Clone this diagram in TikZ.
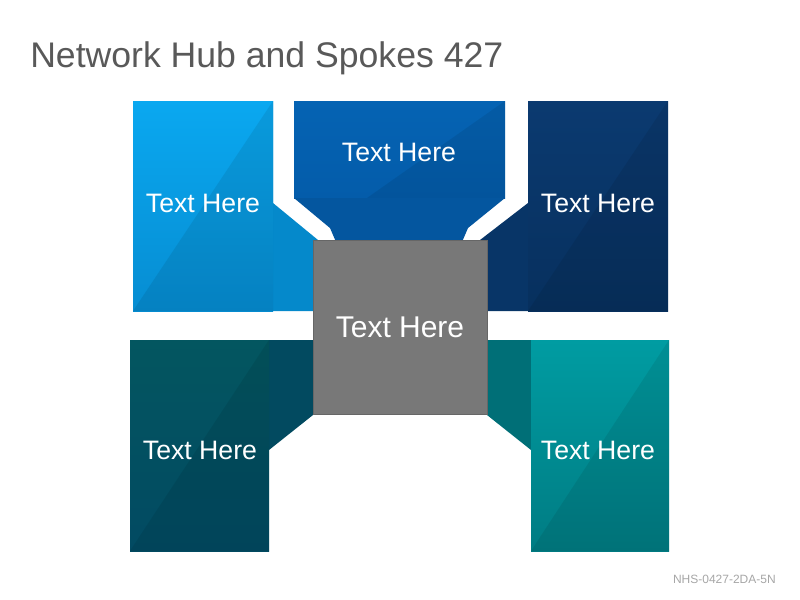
\documentclass[tikz,border=0pt]{standalone}
\usepackage{fontspec}
\setmainfont{Liberation Sans}
\usetikzlibrary{shadows}
\definecolor{tltop}{HTML}{0AA8F0}
\definecolor{tlbot}{HTML}{068DD2}
\definecolor{tlflank}{HTML}{0589CB}
\definecolor{tctop}{HTML}{0563B3}
\definecolor{tcbot}{HTML}{045CAA}
\definecolor{tcband}{HTML}{04569F}
\definecolor{trtop}{HTML}{0B3A70}
\definecolor{trbot}{HTML}{07305E}
\definecolor{trflank}{HTML}{083567}
\definecolor{bltop}{HTML}{035660}
\definecolor{blbot}{HTML}{024A62}
\definecolor{blflank}{HTML}{024A60}
\definecolor{brtop}{HTML}{009CA2}
\definecolor{brbot}{HTML}{007C83}
\definecolor{brflank}{HTML}{006F77}
\definecolor{hubgray}{HTML}{787878}
\definecolor{titlegray}{HTML}{595959}
\definecolor{notegray}{HTML}{A6A6A6}
\begin{document}
\begin{tikzpicture}[x=0.75pt,y=-0.75pt,
  spoketext/.style={text=white,font=\fontsize{20}{22}\selectfont},
  facet/.style={fill=black,fill opacity=0.08},
  hub/.style={fill=hubgray,draw=black!60,line width=0.5pt,inner sep=0pt,
    minimum width=130.5pt,minimum height=130.5pt,text=white,
    font=\fontsize{22.5}{24}\selectfont,
    drop shadow={opacity=0.3,shadow xshift=0.6pt,shadow yshift=-0.9pt}}]
  \useasboundingbox (0,0) rectangle (800,600);

  % top left
  \fill[tlflank] (273,101) -- (273,203) -- (318,240) -- (318,311) -- (273,311) -- cycle;
  \shade[top color=tltop,bottom color=tlbot] (133,101) rectangle (273,311);
  \fill[facet] (133,311) -- (273,101) -- (273,311) -- cycle;

  % top centre
  \shade[top color=tctop,bottom color=tcbot] (294,101) rectangle (505,198);
  \fill[facet] (367,198) -- (505,101) -- (505,198) -- cycle;
  \fill[tcband] (294,198) -- (505,198) -- (468,228) -- (462,242)
    -- (336,242) -- (330,228) -- cycle;

  % top right
  \fill[trflank] (528,101) -- (528,203) -- (480,240) -- (480,311) -- (528,311) -- cycle;
  \shade[top color=trtop,bottom color=trbot] (528,101) rectangle (668,311);
  \fill[facet] (528,311) -- (668,101) -- (668,311) -- cycle;

  % bottom left
  \fill[blflank] (269,340) -- (318,340) -- (318,412) -- (313,415) -- (269,450) -- cycle;
  \shade[top color=bltop,bottom color=blbot] (130,340) rectangle (269,551);
  \fill[facet] (130,551) -- (269,340) -- (269,551) -- cycle;

  % bottom right
  \fill[brflank] (482,340) -- (531,340) -- (531,450) -- (487,415) -- (482,412) -- cycle;
  \shade[top color=brtop,bottom color=brbot] (531,340) rectangle (669,551);
  \fill[facet] (531,551) -- (669,340) -- (669,551) -- cycle;

  \node[hub] (hub) at (400,327) {Text Here};

  \node[spoketext] (tl) at (203,203) {Text Here};
  \node[spoketext] (tc) at (399,152) {Text Here};
  \node[spoketext] (tr) at (598,203) {Text Here};
  \node[spoketext] (bl) at (200,450) {Text Here};
  \node[spoketext] (br) at (598,450) {Text Here};

  \node[anchor=base west,inner sep=0pt,text=titlegray,font=\fontsize{26.7}{30}\selectfont]
    (title) at (30,67) {Network Hub and Spokes 427};
  \node[anchor=base east,inner sep=0pt,text=notegray,font=\fontsize{9}{11}\selectfont]
    (note) at (776,583) {NHS-0427-2DA-5N};
\end{tikzpicture}
\end{document}
